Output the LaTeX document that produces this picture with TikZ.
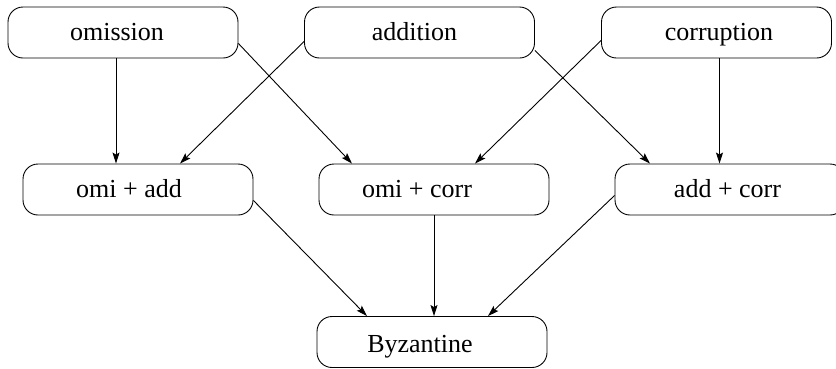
\documentclass[tikz,border=0pt]{standalone}
\usepackage{fontspec}
\setmainfont{Liberation Serif}
\usetikzlibrary{calc,arrows.meta}
\newcommand{\padr}[1]{\hspace{#1}\mbox{}}

\begin{document}
\begin{tikzpicture}[x=1pt,y=-1pt,
    box/.style={draw,rounded corners=15pt,minimum width=230pt,minimum height=51pt,
        inner sep=0pt,text height=17pt,text depth=2pt,line width=0.9pt,
        font=\fontsize{26}{30}\selectfont},
    arr/.style={line width=0.9pt,-{Stealth[length=11pt,width=7pt,inset=2pt]}}]
    \useasboundingbox (0,0) rectangle (836,368);
    % faults
    \node[box] (omission) at (123,32.5) {omission\padr{12pt}};
    \node[box] (addition) at (419.5,32.5) {addition\padr{10pt}};
    \node[box] (corruption) at (716.5,32.5) {\hspace*{5pt}corruption};
    % pairs
    \node[box] (omiadd) at (138,189.5) {omi + add\padr{18pt}};
    \node[box] (omicorr) at (434,189.5) {omi + corr\padr{34pt}};
    \node[box] (addcorr) at (730,189.5) {add + corr\padr{5pt}};
    % all
    \node[box] (byz) at (432,342) {\raisebox{-3pt}{Byzantine}\padr{24pt}};

    % edges
    \draw[arr] ([xshift=-7pt]omission.south) -- ([xshift=-7pt]omission.south |- omiadd.north);
    \draw[arr] ([yshift=-11pt]omission.east) -- ([xshift=-82pt]omicorr.north);
    \draw[arr] ([yshift=-9pt]addition.west) -- ([xshift=42pt]omiadd.north);
    \draw[arr] ([yshift=-18pt]addition.east) -- ([xshift=-80pt]addcorr.north);
    \draw[arr] ([yshift=-8pt]corruption.west) -- ([xshift=41pt]omicorr.north);
    \draw[arr] ([xshift=3pt]corruption.south) -- ([xshift=3pt]corruption.south |- addcorr.north);
    \draw[arr] ([yshift=-11pt]omiadd.east) -- ([xshift=-65pt]byz.north);
    \draw[arr] (omicorr.south) -- (omicorr.south |- byz.north);
    \draw[arr] ([yshift=-6pt]addcorr.west) -- ([xshift=56pt]byz.north);
\end{tikzpicture}
\end{document}
